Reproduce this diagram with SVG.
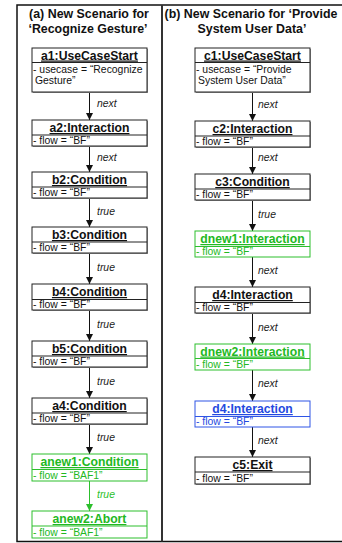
<svg xmlns="http://www.w3.org/2000/svg" width="342" height="543" viewBox="0 0 342 543">
<defs>
<style>
.frame{fill:none;stroke:#111;stroke-width:1.5}
.div{stroke:#333;stroke-width:2}
.h{font-family:"Liberation Sans",Arial,sans-serif;font-weight:bold;font-size:12.4px;fill:#111;text-anchor:middle}
.box{fill:#fff;stroke:#222;stroke-width:1}
.sh{fill:#999}
.sep{stroke:#222;stroke-width:1}
.t{font-family:"Liberation Sans",Arial,sans-serif;font-weight:bold;font-size:12.2px;fill:#111;text-anchor:middle;text-decoration:underline}
.a{font-family:"Liberation Sans",Arial,sans-serif;font-size:10.4px;fill:#111}
.g .box,.g .sep{stroke:#2cbf2c}
.g .t,.g .a{fill:#22b822}
.b .box,.b .sep{stroke:#2f55e6}
.b .t,.b .a{fill:#2449e0}
.ln{stroke:#111;stroke-width:1;fill:none}
.lng{stroke:#2cbf2c;stroke-width:1;fill:none}
.lbl{font-family:"Liberation Sans",Arial,sans-serif;font-style:italic;font-size:10.4px;fill:#222}
.lblg{font-family:"Liberation Sans",Arial,sans-serif;font-style:italic;font-size:10.4px;fill:#2cbf2c}
</style>
<marker id="ar" viewBox="0 0 8 8" refX="8" refY="4" markerWidth="7" markerHeight="7" markerUnits="userSpaceOnUse" orient="auto"><path d="M0,0L8,4L0,8z" fill="#111"/></marker>
<marker id="arg" viewBox="0 0 8 8" refX="8" refY="4" markerWidth="7" markerHeight="7" markerUnits="userSpaceOnUse" orient="auto"><path d="M0,0L8,4L0,8z" fill="#2cbf2c"/></marker>
</defs>
<rect x="0" y="0" width="342" height="543" fill="#fff"/>
<g id="frame">
<rect class="frame" x="17" y="5" width="330" height="536.5"/>
<line class="div" x1="162" y1="5" x2="162" y2="541.5"/>
<text class="h" x="89" y="18">(a) New Scenario for</text>
<text class="h" x="88" y="33">‘Recognize Gesture’</text>
<text class="h" x="251" y="18">(b) New Scenario for ‘Provide</text>
<text class="h" x="252" y="33">System User Data’</text>
</g>
<g id="connectors">
<line class="ln" x1="89.5" y1="92" x2="89.5" y2="120" marker-end="url(#ar)"/>
<text class="lbl" x="97" y="107">next</text>
<line class="ln" x1="89.5" y1="146" x2="89.5" y2="172" marker-end="url(#ar)"/>
<text class="lbl" x="97" y="161">next</text>
<line class="ln" x1="89.5" y1="198" x2="89.5" y2="227" marker-end="url(#ar)"/>
<text class="lbl" x="97" y="214.5">true</text>
<line class="ln" x1="89.5" y1="253" x2="89.5" y2="284" marker-end="url(#ar)"/>
<text class="lbl" x="97" y="270.5">true</text>
<line class="ln" x1="89.5" y1="310" x2="89.5" y2="341" marker-end="url(#ar)"/>
<text class="lbl" x="97" y="327.5">true</text>
<line class="ln" x1="89.5" y1="367" x2="89.5" y2="398" marker-end="url(#ar)"/>
<text class="lbl" x="97" y="384.5">true</text>
<line class="ln" x1="89.5" y1="424" x2="89.5" y2="454" marker-end="url(#ar)"/>
<text class="lbl" x="97" y="441">true</text>
<line class="lng" x1="89.5" y1="480" x2="89.5" y2="511" marker-end="url(#arg)"/>
<text class="lblg" x="97" y="497.5">true</text>
<line class="ln" x1="252.5" y1="92" x2="252.5" y2="121" marker-end="url(#ar)"/>
<text class="lbl" x="258" y="107.5">next</text>
<line class="ln" x1="252.5" y1="147" x2="252.5" y2="174" marker-end="url(#ar)"/>
<text class="lbl" x="258" y="161">next</text>
<line class="ln" x1="252.5" y1="200" x2="252.5" y2="231" marker-end="url(#ar)"/>
<text class="lbl" x="258" y="217.5">true</text>
<line class="ln" x1="252.5" y1="257" x2="252.5" y2="287" marker-end="url(#ar)"/>
<text class="lbl" x="258" y="273.5">next</text>
<line class="ln" x1="252.5" y1="313" x2="252.5" y2="344" marker-end="url(#ar)"/>
<text class="lbl" x="258" y="330.5">next</text>
<line class="ln" x1="252.5" y1="370" x2="252.5" y2="401" marker-end="url(#ar)"/>
<text class="lbl" x="258" y="387">next</text>
<line class="ln" x1="252.5" y1="427" x2="252.5" y2="457" marker-end="url(#ar)"/>
<text class="lbl" x="258" y="443.5">next</text>
</g>
<g id="a1"><rect class="sh" x="33" y="49" width="115" height="44"/><rect class="box" x="32" y="48" width="115" height="44"/><line class="sep" x1="32" y1="62.5" x2="147" y2="62.5"/><text class="t" x="89.5" y="59.5">a1:UseCaseStart</text><text class="a" x="33" y="72.5">- usecase = “Recognize</text><text class="a" x="35" y="83.5">Gesture”</text></g>
<g id="a2"><rect class="sh" x="33" y="121" width="115" height="26"/><rect class="box" x="32" y="120" width="115" height="26"/><line class="sep" x1="32" y1="135" x2="147" y2="135"/><text class="t" x="89.5" y="132">a2:Interaction</text><text class="a" x="33" y="144">- flow = “BF”</text></g>
<g id="b2"><rect class="sh" x="33" y="173" width="115" height="26"/><rect class="box" x="32" y="172" width="115" height="26"/><line class="sep" x1="32" y1="187" x2="147" y2="187"/><text class="t" x="89.5" y="184">b2:Condition</text><text class="a" x="33" y="196">- flow = “BF”</text></g>
<g id="b3"><rect class="sh" x="33" y="228" width="115" height="26"/><rect class="box" x="32" y="227" width="115" height="26"/><line class="sep" x1="32" y1="242" x2="147" y2="242"/><text class="t" x="89.5" y="239">b3:Condition</text><text class="a" x="33" y="251">- flow = “BF”</text></g>
<g id="b4"><rect class="sh" x="33" y="285" width="115" height="26"/><rect class="box" x="32" y="284" width="115" height="26"/><line class="sep" x1="32" y1="299.5" x2="147" y2="299.5"/><text class="t" x="89.5" y="296">b4:Condition</text><text class="a" x="33" y="308">- flow = “BF”</text></g>
<g id="b5"><rect class="sh" x="33" y="342" width="115" height="26"/><rect class="box" x="32" y="341" width="115" height="26"/><line class="sep" x1="32" y1="356" x2="147" y2="356"/><text class="t" x="89.5" y="353">b5:Condition</text><text class="a" x="33" y="365">- flow = “BF”</text></g>
<g id="a4"><rect class="sh" x="33" y="399" width="115" height="26"/><rect class="box" x="32" y="398" width="115" height="26"/><line class="sep" x1="32" y1="413" x2="147" y2="413"/><text class="t" x="89.5" y="410">a4:Condition</text><text class="a" x="33" y="422">- flow = “BF”</text></g>
<g id="anew1" class="g"><rect class="box" x="32" y="454" width="115" height="27"/><line class="sep" x1="32" y1="469.5" x2="147" y2="469.5"/><text class="t" x="89.5" y="466">anew1:Condition</text><text class="a" x="33" y="478.5">- flow = “BAF1”</text></g>
<g id="anew2" class="g"><rect class="box" x="32" y="511" width="115" height="27"/><line class="sep" x1="32" y1="526" x2="147" y2="526"/><text class="t" x="89.5" y="523">anew2:Abort</text><text class="a" x="33" y="535.5">- flow = “BAF1”</text></g>
<g id="c1"><rect class="sh" x="196" y="49" width="115" height="44"/><rect class="box" x="195" y="48" width="115" height="44"/><line class="sep" x1="195" y1="62.5" x2="310" y2="62.5"/><text class="t" x="252.5" y="59.5">c1:UseCaseStart</text><text class="a" x="196" y="72.5">- usecase = “Provide</text><text class="a" x="198" y="83.5">System User Data”</text></g>
<g id="c2"><rect class="sh" x="196" y="122" width="115" height="26"/><rect class="box" x="195" y="121" width="115" height="26"/><line class="sep" x1="195" y1="136" x2="310" y2="136"/><text class="t" x="252.5" y="133">c2:Interaction</text><text class="a" x="196" y="145">- flow = “BF”</text></g>
<g id="c3"><rect class="sh" x="196" y="175" width="115" height="26"/><rect class="box" x="195" y="174" width="115" height="26"/><line class="sep" x1="195" y1="189" x2="310" y2="189"/><text class="t" x="252.5" y="186">c3:Condition</text><text class="a" x="196" y="198">- flow = “BF”</text></g>
<g id="dnew1" class="g"><rect class="box" x="195" y="231" width="115" height="26"/><line class="sep" x1="195" y1="246.5" x2="310" y2="246.5"/><text class="t" x="252.5" y="243">dnew1:Interaction</text><text class="a" x="196" y="255">- flow = “BF”</text></g>
<g id="d4"><rect class="sh" x="196" y="288" width="115" height="26"/><rect class="box" x="195" y="287" width="115" height="26"/><line class="sep" x1="195" y1="302.5" x2="310" y2="302.5"/><text class="t" x="252.5" y="299">d4:Interaction</text><text class="a" x="196" y="311">- flow = “BF”</text></g>
<g id="dnew2" class="g"><rect class="box" x="195" y="344" width="115" height="26"/><line class="sep" x1="195" y1="358.5" x2="310" y2="358.5"/><text class="t" x="252.5" y="355.5">dnew2:Interaction</text><text class="a" x="196" y="368">- flow = “BF”</text></g>
<g id="d4b" class="b"><rect class="box" x="195" y="401" width="115" height="26"/><line class="sep" x1="195" y1="416.5" x2="310" y2="416.5"/><text class="t" x="252.5" y="413">d4:Interaction</text><text class="a" x="196" y="425">- flow = “BF”</text></g>
<g id="c5"><rect class="sh" x="196" y="458" width="115" height="27"/><rect class="box" x="195" y="457" width="115" height="27"/><line class="sep" x1="195" y1="472" x2="310" y2="472"/><text class="t" x="252.5" y="469">c5:Exit</text><text class="a" x="196" y="481.5">- flow = “BF”</text></g>
</svg>
